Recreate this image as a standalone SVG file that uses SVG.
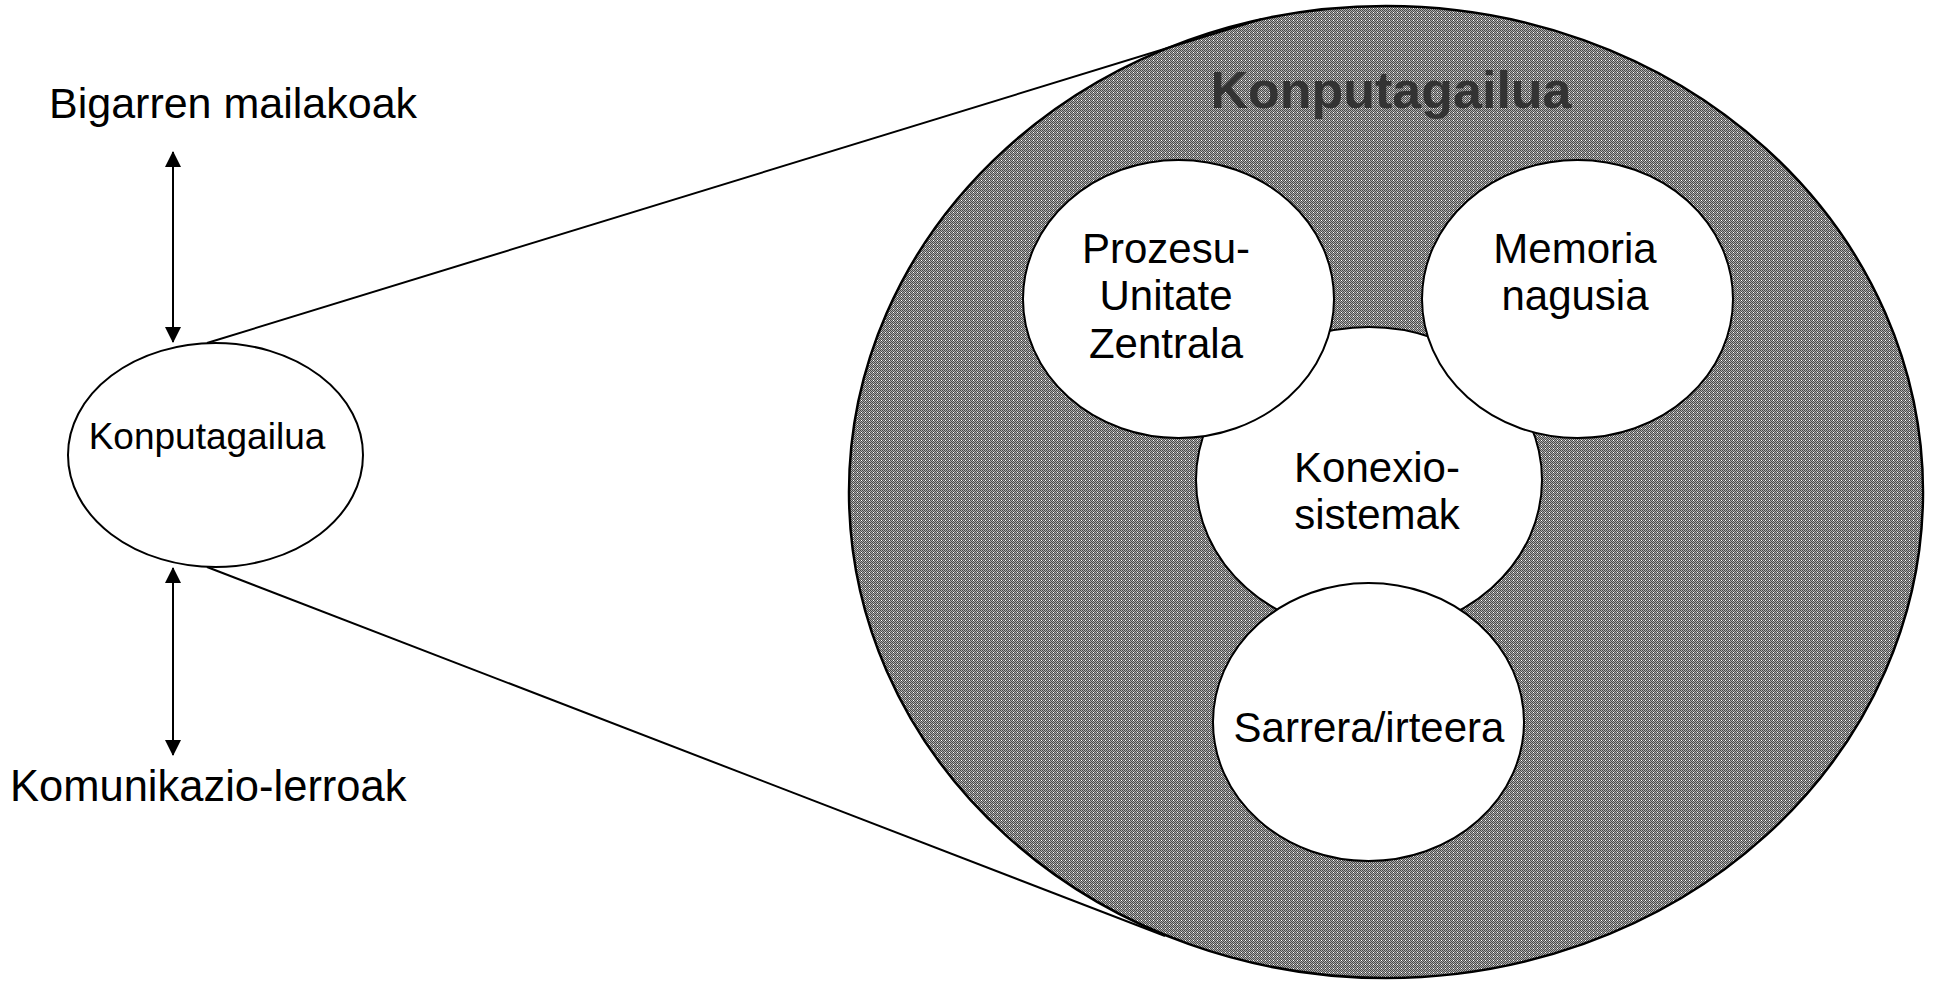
<svg xmlns="http://www.w3.org/2000/svg" width="1934" height="981" viewBox="0 0 1934 981">
<defs>
<pattern id="hatch" x="0" y="0" width="4" height="4" patternUnits="userSpaceOnUse">
<rect width="4" height="4" fill="#acacac"/>
<rect x="0" y="0" width="1" height="1" fill="#4a4a4a"/>
<rect x="2" y="0" width="1" height="1" fill="#4a4a4a"/>
<rect x="1" y="1" width="1" height="1" fill="#4a4a4a"/>
<rect x="3" y="1" width="1" height="1" fill="#4a4a4a"/>
<rect x="0" y="2" width="1" height="1" fill="#4a4a4a"/>
<rect x="2" y="2" width="1" height="1" fill="#4a4a4a"/>
<rect x="1" y="3" width="1" height="1" fill="#4a4a4a"/>
<rect x="3" y="3" width="1" height="1" fill="#4a4a4a"/>
<rect x="1" y="0" width="1" height="1" fill="#ffffff"/>
</pattern>
<marker id="arr" viewBox="0 0 16 16" refX="15" refY="8" markerWidth="16" markerHeight="16" markerUnits="userSpaceOnUse" orient="auto-start-reverse">
<path d="M0,0 L16,8 L0,16 Z" fill="#000"/>
</marker>
</defs>
<style>
.t{font-family:"Liberation Sans",Arial,sans-serif;fill:#000;}
.c{fill:#fff;stroke:#000;stroke-width:2;}
.ln{stroke:#000;stroke-width:2;fill:none;}
</style>
<rect width="1934" height="981" fill="#fff"/>
<g id="big">
<ellipse cx="1386" cy="492" rx="537" ry="486" fill="url(#hatch)" stroke="#000" stroke-width="2.5"/>
<text class="t" x="1391" y="108" font-size="52" font-weight="bold" text-anchor="middle" style="fill:#333">Konputagailua</text>
</g>
<g id="konexio">
<ellipse class="c" cx="1369" cy="480" rx="173" ry="153"/>
<text class="t" font-size="42" text-anchor="middle"><tspan x="1377" y="482">Konexio-</tspan><tspan x="1377" y="529">sistemak</tspan></text>
</g>
<g id="prozesu">
<ellipse class="c" cx="1178.5" cy="299" rx="155.5" ry="139"/>
<text class="t" font-size="42" text-anchor="middle"><tspan x="1166" y="263">Prozesu-</tspan><tspan x="1166" y="310">Unitate</tspan><tspan x="1166" y="358">Zentrala</tspan></text>
</g>
<g id="memoria">
<ellipse class="c" cx="1577.5" cy="299" rx="155.5" ry="139"/>
<text class="t" font-size="42" text-anchor="middle"><tspan x="1575" y="263">Memoria</tspan><tspan x="1575" y="310">nagusia</tspan></text>
</g>
<g id="sarrera">
<ellipse class="c" cx="1368.5" cy="722" rx="155.5" ry="139"/>
<text class="t" x="1369" y="742" font-size="42" text-anchor="middle">Sarrera/irteera</text>
</g>
<g id="konputagailua-small">
<ellipse class="c" cx="215.5" cy="455" rx="147.5" ry="112"/>
<text class="t" x="207" y="449" font-size="37" text-anchor="middle">Konputagailua</text>
</g>
<g id="bigarren">
<text class="t" x="49" y="118" font-size="43">Bigarren mailakoak</text>
</g>
<g id="komunikazio">
<text class="t" x="10" y="801" font-size="43.5">Komunikazio-lerroak</text>
</g>
<g id="connectors">
<line class="ln" x1="173" y1="152" x2="173" y2="342" marker-start="url(#arr)" marker-end="url(#arr)"/>
<line class="ln" x1="173" y1="568" x2="173" y2="755" marker-start="url(#arr)" marker-end="url(#arr)"/>
<line class="ln" x1="207" y1="343" x2="1262" y2="19"/>
<line class="ln" x1="207" y1="567" x2="1165" y2="936"/>
</g>
</svg>
